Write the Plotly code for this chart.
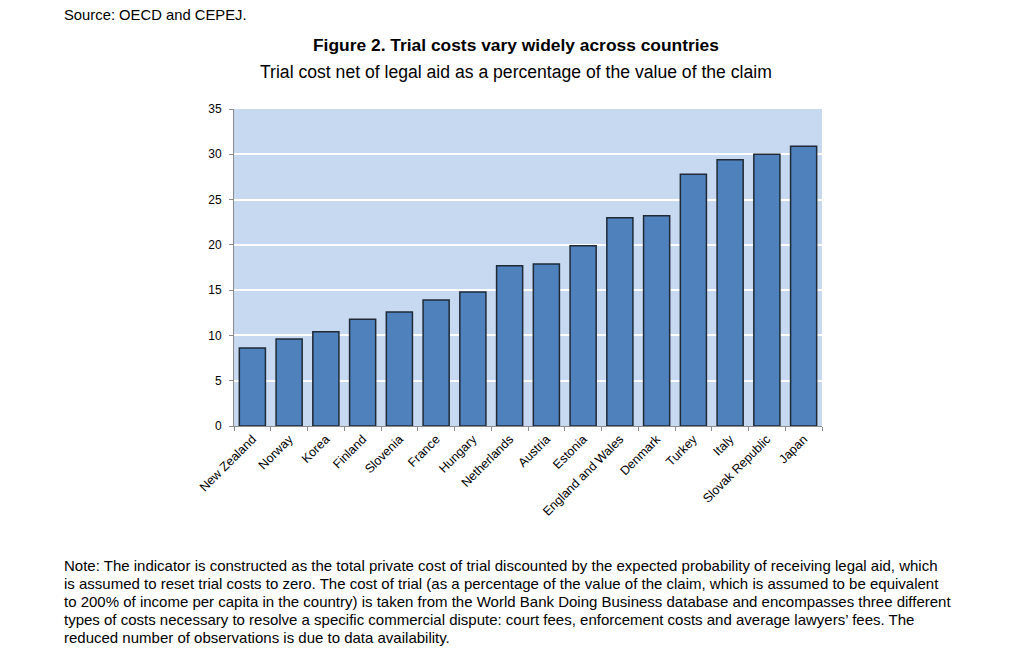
import plotly.graph_objects as go

countries = ["New Zealand", "Norway", "Korea", "Finland", "Slovenia", "France", "Hungary",
             "Netherlands", "Austria", "Estonia", "England and Wales", "Denmark", "Turkey",
             "Italy", "Slovak Republic", "Japan"]
values = [8.6, 9.6, 10.4, 11.8, 12.6, 13.9, 14.8, 17.7, 17.9, 19.9, 23.0, 23.2, 27.8, 29.4, 30.0, 30.9]
y_ticks = [0, 5, 10, 15, 20, 25, 30, 35]

note_lines = [
    "Note: The indicator is constructed as the total private cost of trial discounted by the expected probability of receiving legal aid, which",
    "is assumed to reset trial costs to zero. The cost of trial (as a percentage of the value of the claim, which is assumed to be equivalent",
    "to 200% of income per capita in the country) is taken from the World Bank Doing Business database and encompasses three different",
    "types of costs necessary to resolve a specific commercial dispute: court fees, enforcement costs and average lawyers\u2019 fees. The",
    "reduced number of observations is due to data availability.",
]

FONT = "Liberation Sans, Arial, sans-serif"

# page has an 8px body margin; figure sized to fit inside the window
OFF = 8
W, H = 1024 - 2 * OFF, 657 - 2 * OFF
left, right, top, bottom = 234 - OFF, 822 - OFF, 109 - OFF, 426 - OFF
ml, mr, mt, mb = left, W - right, top, H - bottom
pw, ph = right - left, bottom - top

fig = go.Figure(go.Bar(
    x=countries, y=values,
    marker=dict(color="#4F81BD", line=dict(color="#1F2A36", width=1.5)),
    width=0.71,
))

fig.update_layout(
    width=W, height=H,
    margin=dict(l=ml, r=mr, t=mt, b=mb, pad=0),
    paper_bgcolor="white",
    plot_bgcolor="#C6D9F0",
    showlegend=False,
    font=dict(family=FONT, color="black", size=12),
)
fig.update_xaxes(
    type="category", tickangle=-45, showline=True, linecolor="#8C8C8C", linewidth=1,
    ticks="outside", tickson="boundaries", ticklen=4, tickcolor="#8C8C8C",
    showgrid=False, tickfont=dict(size=12.5, family=FONT), automargin=False,
)
fig.update_yaxes(
    range=[0, 35], tickvals=y_ticks, showline=True, linecolor="#8C8C8C", linewidth=1,
    ticks="outside", ticklen=4, tickcolor="#8C8C8C", ticklabelstandoff=5,
    showgrid=True, gridcolor="white", gridwidth=1.5, zeroline=False,
    tickfont=dict(size=12, family=FONT), automargin=False,
)

def px(xpage):
    return (xpage - OFF - left) / pw

def py(ypage):
    return (bottom - (ypage - OFF)) / ph

ann = []
ann.append(dict(text="Source: OECD and CEPEJ.", x=px(62), y=py(15), xref="paper", yref="paper",
                xanchor="left", yanchor="middle", showarrow=False, font=dict(size=14.8, family=FONT)))
ann.append(dict(text="<b>Figure 2. Trial costs vary widely across countries</b>", x=px(516), y=py(45),
                xref="paper", yref="paper", xanchor="center", yanchor="middle", showarrow=False,
                font=dict(size=17.4, family=FONT)))
ann.append(dict(text="Trial cost net of legal aid as a percentage of the value of the claim", x=px(516), y=py(72),
                xref="paper", yref="paper", xanchor="center", yanchor="middle", showarrow=False,
                font=dict(size=17.6, family=FONT)))
for i, line in enumerate(note_lines):
    ann.append(dict(text=line, x=px(62), y=py(565 + i * 18.2), xref="paper", yref="paper",
                    xanchor="left", yanchor="middle", showarrow=False, font=dict(size=15, family=FONT)))
fig.update_layout(annotations=ann)

fig.write_html("out.html")
